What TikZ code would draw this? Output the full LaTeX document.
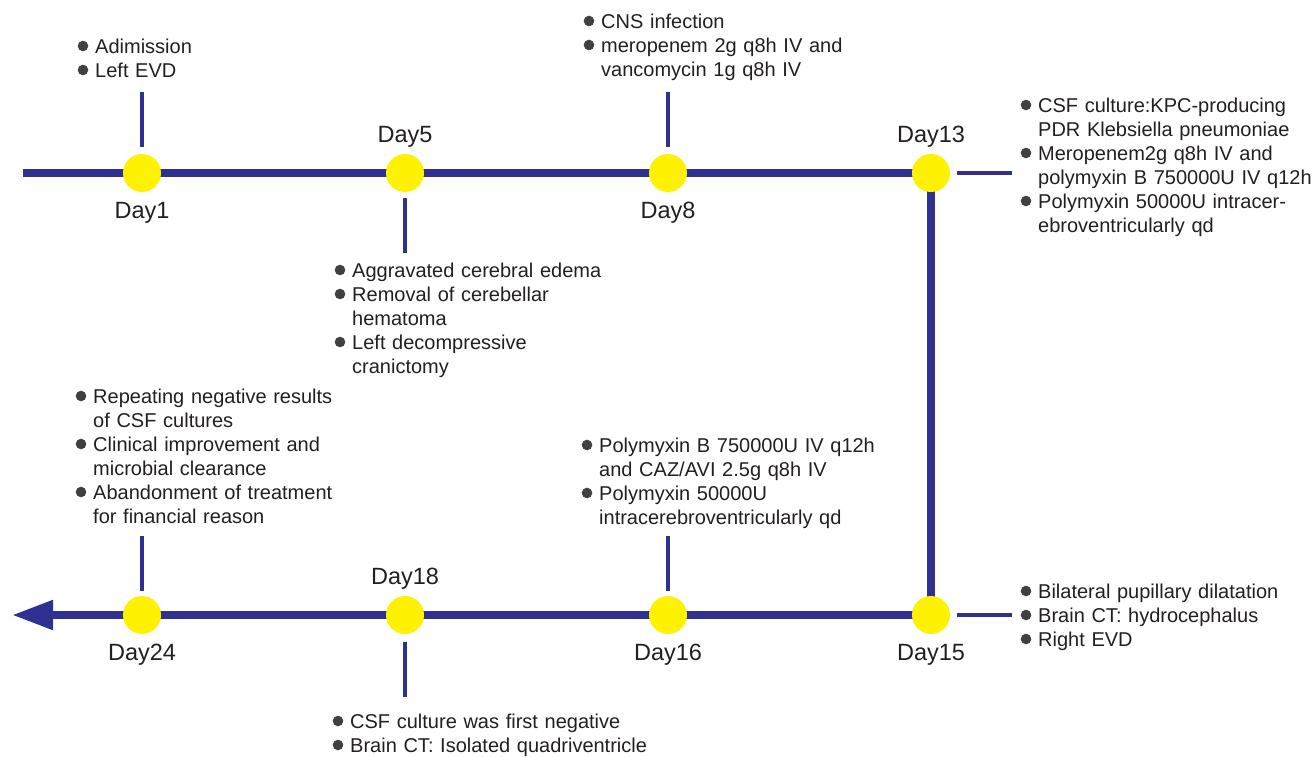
\documentclass[tikz,border=0pt]{standalone}
\usepackage{fontspec}
\setmainfont{Liberation Sans}
\usetikzlibrary{arrows.meta,positioning,calc,backgrounds}
\definecolor{lineblue}{HTML}{2E3192}
\definecolor{dotyellow}{HTML}{FFF200}
\definecolor{textgray}{HTML}{231F20}
\definecolor{bulgray}{HTML}{404040}
\tikzset{
  dot/.style={circle, fill=dotyellow, minimum size=38pt, inner sep=0pt},
  daylab/.style={font=\fontsize{23.5}{28}\selectfont, text=textgray, inner sep=0pt},
  event/.style={anchor=base west, align=left, text width=300pt, inner sep=0pt,
    text=textgray, font=\fontsize{20}{24}\selectfont},
  mainline/.style={line width=8pt, draw=lineblue},
  tickline/.style={line width=3.5pt, draw=lineblue},
  bul/.style={fill=bulgray},
}

\begin{document}
\begin{tikzpicture}[x=1pt, y=-1pt]
\useasboundingbox (0,0) rectangle (1312,756);

% ================= DAYS =================
\node[dot] (d1)  at (142,173) {};
\node[dot] (d5)  at (405,173) {};
\node[dot] (d8)  at (668,173) {};
\node[dot] (d13) at (931,173) {};
\node[dot] (d15) at (931,615) {};
\node[dot] (d16) at (668,615) {};
\node[dot] (d18) at (405,615) {};
\node[dot] (d24) at (142,615) {};

\coordinate (start) at (23,173);
\coordinate (tip)   at (12,615);

\node[daylab, below=10pt of d1]  (l1)  {Day1};
\node[daylab, above=6pt of d5]   (l5)  {Day5};
\node[daylab, below=10pt of d8]  (l8)  {Day8};
\node[daylab, above=6pt of d13]  (l13) {Day13};
\node[daylab, below=10pt of d15] (l15) {Day15};
\node[daylab, below=10pt of d16] (l16) {Day16};
\node[daylab, above=6pt of d18]  (l18) {Day18};
\node[daylab, below=10pt of d24] (l24) {Day24};

% ================= TIMELINE =================
\begin{scope}[on background layer]
\draw[mainline, -{Triangle[length=41pt, width=28pt]}]
  (start) -- (d13.center) -- (d15.center) -- (tip);
\end{scope}

\draw[tickline] ($(d1.north)+(0,-7)$)  -- ++(0,-55);
\draw[tickline] ($(d5.south)+(0,6)$)   -- ++(0,55);
\draw[tickline] ($(d8.north)+(0,-7)$)  -- ++(0,-55);
\draw[tickline] ($(d13.east)+(7,0)$)   -- ++(55,0);
\draw[tickline] ($(d15.east)+(7,0)$)   -- ++(55,0);
\draw[tickline] ($(d16.north)+(0,-5)$) -- ++(0,-55);
\draw[tickline] ($(d18.south)+(0,8)$)  -- ++(0,55);
\draw[tickline] ($(d24.north)+(0,-5)$) -- ++(0,-55);

% ================= EVENTS =================
\node[event] (ev1) at (95,53) {Adimission\\Left EVD};
\node[event] (ev8) at (601,28)
  {CNS infection\\meropenem 2g q8h IV and\\vancomycin 1g q8h IV};
\node[event] (ev13) at (1038,112)
  {CSF culture:KPC-producing\\PDR Klebsiella pneumoniae\\
   Meropenem2g q8h IV and\\polymyxin B 750000U IV q12h\\
   Polymyxin 50000U intracer-\\ebroventricularly qd};
\node[event] (ev5) at (352,277)
  {Aggravated cerebral edema\\Removal of cerebellar\\hematoma\\
   Left decompressive\\cranictomy};
\node[event] (ev24) at (93,403)
  {Repeating negative results\\of CSF cultures\\
   Clinical improvement and\\microbial clearance\\
   Abandonment of treatment\\for financial reason};
\node[event] (ev16) at (599,452)
  {Polymyxin B 750000U IV q12h\\and CAZ/AVI 2.5g q8h IV\\
   Polymyxin 50000U\\intracerebroventricularly qd};
\node[event] (ev15) at (1038,598)
  {Bilateral pupillary dilatation\\Brain CT: hydrocephalus\\Right EVD};
\node[event] (ev18) at (350,728)
  {CSF culture was first negative\\Brain CT: Isolated quadriventricle};

% bullets
\foreach \k in {0,1}   \fill[bul] ($(ev1.base west)+(-12,24*\k-7)$) circle (5.3pt);
\foreach \k in {0,1}   \fill[bul] ($(ev8.base west)+(-12,24*\k-7)$) circle (5.3pt);
\foreach \k in {0,2,4} \fill[bul] ($(ev13.base west)+(-12,24*\k-7)$) circle (5.3pt);
\foreach \k in {0,1,3} \fill[bul] ($(ev5.base west)+(-12,24*\k-7)$) circle (5.3pt);
\foreach \k in {0,2,4} \fill[bul] ($(ev24.base west)+(-12,24*\k-7)$) circle (5.3pt);
\foreach \k in {0,2}   \fill[bul] ($(ev16.base west)+(-12,24*\k-7)$) circle (5.3pt);
\foreach \k in {0,1,2} \fill[bul] ($(ev15.base west)+(-12,24*\k-7)$) circle (5.3pt);
\foreach \k in {0,1}   \fill[bul] ($(ev18.base west)+(-12,24*\k-7)$) circle (5.3pt);

\end{tikzpicture}
\end{document}
